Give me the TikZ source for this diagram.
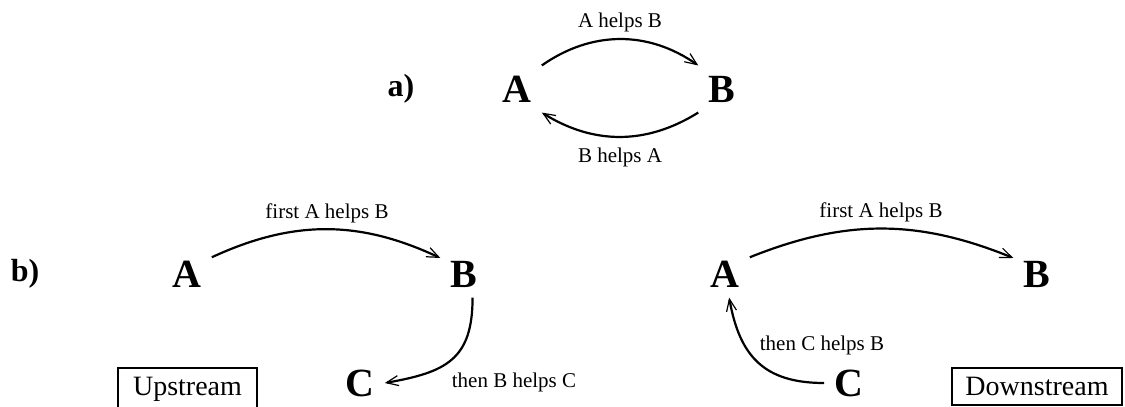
\documentclass[tikz,border=0pt]{standalone}
\usepackage{fontspec}
\setmainfont{Liberation Serif}
\usetikzlibrary{arrows.meta}
\tikzset{
  lett/.style={font=\fontsize{20}{24}\selectfont\bfseries,inner sep=5pt},
  part/.style={font=\fontsize{16}{19}\selectfont\bfseries,inner sep=0pt},
  lbl/.style={font=\fontsize{10.5}{12.6}\selectfont,inner sep=0pt},
  tag/.style={draw,line width=1.2pt,font=\fontsize{14}{16.8}\selectfont,inner xsep=0pt,inner ysep=4.5pt,anchor=north},
  ar/.style={-{Straight Barb[length=6pt,width=5pt,line width=0.6pt]},line width=1.1pt}
}

\begin{document}
\begin{tikzpicture}[x=0.5pt,y=0.5pt]
\useasboundingbox (0,0) rectangle (1125,-407);
\clip (0,0) rectangle (1125,-407);
% a) both ways
\node[part] (pa) at (401,-89) {a)};
\node[lett] (a1) at (517,-89) {A};
\node[lett] (b1) at (722,-89) {B};
\draw[ar] (a1.north east) to[bend left=35] (b1.north west);
\draw[ar] (b1.south west) to[bend left=32] (a1.south east);
\node[lbl] (ab1) at (620,-22) {A helps B};
\node[lbl] (ba1) at (620,-157) {B helps A};
% b) upstream
\node[part] (pb) at (25,-274) {b)};
\node[lett] (a2) at (187,-274) {A};
\node[lett] (b2) at (464,-274) {B};
\node[lett] (c2) at (360,-383) {C};
\draw[ar] (a2.34) to[bend left=25] (b2.146);
\draw[ar] (b2.-70) to[out=-90,in=10,looseness=1.3] (c2.east);
\node[lbl] (ab2) at (327,-213) {first A helps B};
\node[lbl] (bc2) at (514,-382) {then B helps C};
\node[tag,minimum width=69.5pt] (up) at (187.5,-367) {Upstream};
% b) downstream
\node[lett] (a3) at (725,-274) {A};
\node[lett] (b3) at (1037,-274) {B};
\node[lett] (c3) at (849,-383) {C};
\draw[ar] (a3.34) to[bend left=22] (b3.146);
\draw[ar] (c3.west) to[out=180,in=-80,looseness=1.2] (a3.-80);
\node[lbl] (ab3) at (881,-212) {first A helps B};
\node[lbl] (cb3) at (822,-345) {then C helps B};
\node[tag,minimum width=85pt] (down) at (1037,-367) {Downstream};
\end{tikzpicture}
\end{document}
